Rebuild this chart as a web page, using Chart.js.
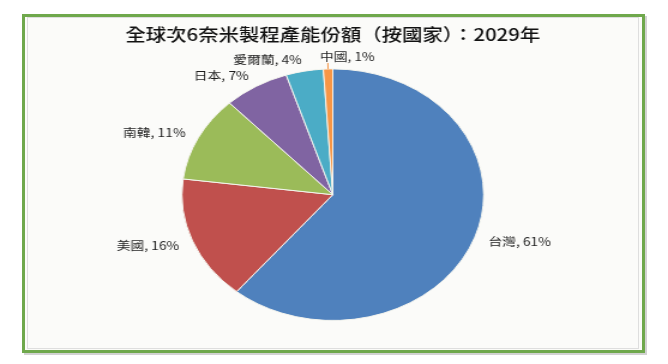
<!DOCTYPE html>
<html>
<head>
<meta charset="utf-8">
<script src="https://cdn.jsdelivr.net/npm/chart.js@4"></script>
<style>
html, body { margin: 0; padding: 0; background: #fff; }
#wrap { position: relative; width: 668px; height: 364px; }
#frame { position: absolute; left: 22px; top: 14px; width: 617px; height: 333px;
         border: 3px solid #6fa84c; background: #fbfbf9; box-shadow: 2px 2px 0 #d2d2d2; }
#inner { position: absolute; left: 27px; top: 17px; width: 610px; height: 330px; border: 1px solid #dedede; }
#pie { position: absolute; left: 0; top: 0; }
</style>
</head>
<body>
<div id="wrap">
  <div id="frame"></div>
  <div id="inner"></div>
  <!-- drawn narrower and stretched sideways, like the original screenshot -->
  <canvas id="pie" width="557" height="364" style="width:668px;height:364px"></canvas>
</div>
<script>
// ====================
// データ
// ====================
const titleText = "全球次6奈米製程產能份額（按國家）：2029年";
const countries = ["台灣", "美國", "南韓", "日本", "愛爾蘭", "中國"];
const shares = [61, 16, 11, 7, 4, 1];
const sliceColors = ["#4f81bd", "#c0504d", "#9bbb59", "#8064a2", "#4bacc6", "#f79646"];

const fontFamily = "'Noto Sans CJK TC', 'Noto Sans', sans-serif";

// ====================
// ラベル（外側 + 重なったら右へずらして引き出し線）
// ====================
const sliceLabels = {
    id: "sliceLabels",
    afterDatasetsDraw(chart) {
        const ctx = chart.ctx;
        const meta = chart.getDatasetMeta(0);
        const boxes = [];
        ctx.save();
        ctx.font = "11.5px " + fontFamily;
        ctx.textBaseline = "middle";
        ctx.textAlign = "left";
        meta.data.forEach((arc, i) => {
            const p = arc.getProps(["x", "y", "startAngle", "endAngle", "outerRadius"], true);
            const mid = (p.startAngle + p.endAngle) / 2;
            const cos = Math.cos(mid), sin = Math.sin(mid);
            const text = countries[i] + ", " + shares[i] + "%";
            const w = ctx.measureText(text).width;
            const x = p.x + (p.outerRadius + 12) * cos;
            const y = p.y + (p.outerRadius + 12) * sin;
            let left = cos >= 0 ? x : x - w;

            const prev = boxes[boxes.length - 1];
            if (prev && Math.abs(prev.y - y) < 12 && left < prev.right && left + w > prev.left) {
                left = prev.right + 15;
                ctx.strokeStyle = sliceColors[i];
                ctx.lineWidth = 1;
                ctx.beginPath();
                ctx.moveTo(p.x + p.outerRadius * cos, p.y + p.outerRadius * sin);
                ctx.lineTo(p.x + (p.outerRadius + 6) * cos, p.y + (p.outerRadius + 6) * sin);
                ctx.stroke();
            }
            ctx.fillStyle = "#1e1e1e";
            ctx.fillText(text, left, y);
            boxes.push({ left: left, right: left + w, y: y });
        });
        ctx.restore();
    }
};

new Chart(document.getElementById("pie"), {
    type: "pie",
    data: {
        labels: countries,
        datasets: [{
            data: shares,
            backgroundColor: sliceColors,
            borderColor: "#f4f4ee",
            borderWidth: 1
        }]
    },
    options: {
        responsive: false,
        devicePixelRatio: 1,
        animation: false,
        layout: { padding: { top: 24, bottom: 43, left: 0, right: 2 } },
        plugins: {
            legend: { display: false },
            tooltip: { enabled: false },
            title: {
                display: true,
                text: titleText,
                color: "#111",
                font: { family: fontFamily, size: 17, weight: "500", lineHeight: 1.2 },
                padding: { top: 0, bottom: 24 }
            }
        }
    },
    plugins: [sliceLabels]
});
</script>
</body>
</html>
